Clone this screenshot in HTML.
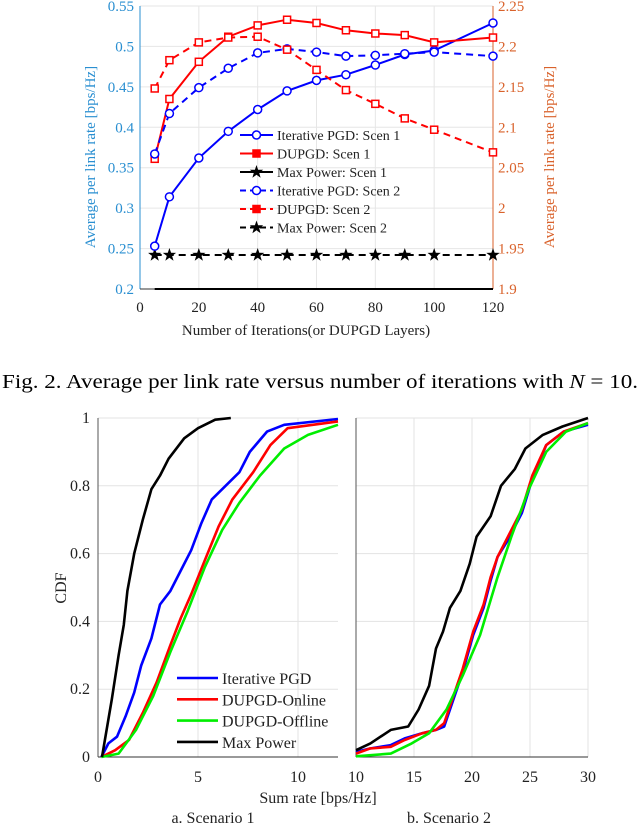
<!DOCTYPE html>
<html><head><meta charset="utf-8"><style>
html,body{margin:0;padding:0;background:#fff;}
svg{display:block;font-family:"Liberation Serif",serif;}
</style></head><body>
<svg id="fig" width="640" height="825" viewBox="0 0 640 825">
<g id="topchart"></g>
<text x="2" y="388" font-size="20" textLength="636" lengthAdjust="spacingAndGlyphs">Fig. 2.  Average per link rate versus number of iterations with <tspan font-style="italic">N</tspan> = 10.</text>
<g id="bot"></g>
</svg>
<script>
// ---------- Top chart data ----------
const iters = [5,10,20,30,40,50,60,70,80,90,100,120];
const xTicksTop = [0,20,40,60,80,100,120];
const leftTicks = [0.2,0.25,0.3,0.35,0.4,0.45,0.5,0.55];
const rightTicks = [1.9,1.95,2,2.05,2.1,2.15,2.2,2.25];
const ipgd1 = [0.253,0.314,0.362,0.395,0.422,0.445,0.458,0.465,0.477,0.490,0.495,0.529];
const dupgd1 = [2.061,2.135,2.181,2.212,2.226,2.233,2.229,2.220,2.216,2.214,2.205,2.211];
const maxp1 = [0.2,0.2,0.2,0.2,0.2,0.2,0.2,0.2,0.2,0.2,0.2,0.2];
const ipgd2 = [0.367,0.417,0.449,0.473,0.492,0.497,0.493,0.488,0.489,0.491,0.493,0.488];
const dupgd2 = [2.148,2.183,2.205,2.211,2.212,2.196,2.171,2.146,2.129,2.111,2.097,2.069];
const maxp2 = [1.942,1.942,1.942,1.942,1.942,1.942,1.942,1.942,1.942,1.942,1.942,1.942];

// ---------- CDF data ----------
const s1Xticks = [0,5,10];
const s2Xticks = [10,15,20,25,30];
const cdfTicks = [0,0.2,0.4,0.6,0.8,1];
const s1BlackX = [0.2,0.69,1.03,1.29,1.47,1.81,2.24,2.67,3.1,3.53,4.31,5.0,5.86,6.64];
const s1BlackY = [0,0.17,0.30,0.39,0.49,0.60,0.70,0.79,0.83,0.88,0.94,0.97,0.995,1.0];
const s1BlueX = [0.17,0.52,0.95,1.38,1.81,2.16,2.67,3.1,3.62,4.14,4.66,5.17,5.69,6.38,7.07,7.59,8.45,9.31,12];
const s1BlueY = [0,0.04,0.06,0.12,0.19,0.27,0.35,0.45,0.49,0.55,0.61,0.69,0.76,0.80,0.84,0.90,0.96,0.98,0.997];
const s1RedX = [0.17,0.86,1.55,2.24,2.93,3.62,4.14,4.66,5.34,6.03,6.72,7.76,8.62,9.48,12];
const s1RedY = [0,0.02,0.05,0.13,0.22,0.33,0.41,0.48,0.58,0.68,0.76,0.84,0.92,0.97,0.99];
const s1GreenX = [0.17,1.03,1.9,2.76,3.62,4.48,5.34,6.21,7.07,8.1,9.31,10.5,12];
const s1GreenY = [0,0.01,0.08,0.18,0.31,0.43,0.56,0.67,0.75,0.83,0.91,0.95,0.98];
const s2BlackX = [10,11.24,13.0,14.5,15.4,16.3,16.9,17.5,18.1,19.0,19.8,20.4,21.6,22.5,23.7,24.6,26.1,27.8,30];
const s2BlackY = [0.02,0.04,0.08,0.09,0.14,0.21,0.32,0.37,0.44,0.49,0.57,0.65,0.71,0.80,0.85,0.91,0.95,0.975,1.0];
const s2RedX = [10,11.2,13,14.2,15.7,16.9,17.6,18.4,19.2,20.1,21.0,21.6,22.2,23.1,24.3,25.2,26.4,27.9,30];
const s2RedY = [0.01,0.025,0.03,0.05,0.07,0.08,0.10,0.18,0.26,0.37,0.45,0.53,0.59,0.65,0.73,0.83,0.92,0.96,0.985];
const s2BlueX = [10,11.2,13,14.2,15.7,16.9,17.6,18.4,19.2,20.1,21.0,21.6,22.2,23.1,24.3,25.2,26.4,27.9,30];
const s2BlueY = [0.015,0.025,0.035,0.055,0.07,0.08,0.09,0.17,0.25,0.36,0.44,0.52,0.59,0.64,0.72,0.82,0.92,0.96,0.98];
const s2GreenX = [10,13,14.8,16.3,17.8,19.2,20.7,22.2,23.4,24.9,26.4,28.1,30];
const s2GreenY = [0.002,0.01,0.04,0.07,0.14,0.24,0.36,0.53,0.65,0.79,0.90,0.96,0.985];

const NS = 'http://www.w3.org/2000/svg';
function mk(parent, tag, attrs){ const e=document.createElementNS(NS,tag); for(const k in attrs) e.setAttribute(k,attrs[k]); parent.appendChild(e); return e; }

// ---------- Top chart ----------
const topG = document.getElementById('topchart');
const TL=140, TR=493, TT=6, TB=289;
const tx = v => TL + (v-0)/(120-0)*(TR-TL);
const tyL = v => TB - (v-0.2)/(0.55-0.2)*(TB-TT);
const tyR = v => TB - (v-1.9)/(2.25-1.9)*(TB-TT);
const BLUEAX='#2a8fd1', ORANGE='#d9622b';
xTicksTop.forEach(t=>{
  const g=mk(topG,'line',{x1:tx(t),x2:tx(t),y1:TT,y2:TB,stroke:'#e6e6e6','stroke-width':1});
   
  const l=mk(topG,'text',{x:tx(t),y:312,'font-size':15,'text-anchor':'middle',fill:'#222'}); l.textContent=t;
   
});
leftTicks.forEach(t=>{
  const g=mk(topG,'line',{x1:TL,x2:TR,y1:tyL(t),y2:tyL(t),stroke:'#e6e6e6','stroke-width':1});
   
  const l=mk(topG,'text',{x:134,y:tyL(t)+5,'font-size':15,'text-anchor':'end',fill:BLUEAX}); l.textContent=t;
   
});
rightTicks.forEach(t=>{
  const l=mk(topG,'text',{x:498,y:tyR(t)+5,'font-size':15,fill:ORANGE}); l.textContent=t;
   
});
let a=mk(topG,'line',{x1:TL,x2:TL,y1:TT,y2:TB,stroke:BLUEAX,'stroke-width':1});  
a=mk(topG,'line',{x1:TR,x2:TR,y1:TT,y2:TB,stroke:ORANGE,'stroke-width':1});  
a=mk(topG,'line',{x1:TL,x2:TR,y1:TB,y2:TB,stroke:'#333','stroke-width':1});  
let tt=mk(topG,'text',{x:0,y:0,'font-size':15,'text-anchor':'middle',fill:BLUEAX,transform:'translate(95,157) rotate(-90)'}); tt.textContent='Average per link rate [bps/Hz]';
 
tt=mk(topG,'text',{x:0,y:0,'font-size':15,'text-anchor':'middle',fill:ORANGE,transform:'translate(554,157) rotate(-90)'}); tt.textContent='Average per link rate [bps/Hz]';
 
tt=mk(topG,'text',{x:306,y:335,'font-size':15,'text-anchor':'middle',fill:'#222'}); tt.textContent='Number of Iterations(or DUPGD Layers)';
 

function marker(g,type,x,y,color,filled){
  let m;
  if(type==='none') return;
  if(type==='o') m=mk(g,'circle',{cx:x,cy:y,r:4,fill:filled?color:'#fff',stroke:color,'stroke-width':1.5});
  else if(type==='s') m=mk(g,'rect',{x:x-3.5,y:y-3.5,width:7,height:7,fill:filled?color:'#fff',stroke:color,'stroke-width':1.5});
  else { const pts=[];for(let i=0;i<10;i++){const r=i%2?2.8:7;const ang=-Math.PI/2+i*Math.PI/5;pts.push((x+r*Math.cos(ang)).toFixed(1)+','+(y+r*Math.sin(ang)).toFixed(1));}
    m=mk(g,'polygon',{points:pts.join(' '),fill:color}); }
   
}
function series(name,vals,yf,color,dash,mtype,filled){
  const g=mk(topG,'g',{});  
  const pts=iters.map((x,i)=>tx(x).toFixed(1)+','+yf(vals[i]).toFixed(1)).join(' ');
  const p=mk(g,'polyline',{points:pts,fill:'none',stroke:color,'stroke-width':2,'stroke-dasharray':dash||'none'});
   
  iters.forEach((x,i)=>marker(g,mtype,tx(x),yf(vals[i]),color,filled));
}
series('max-power-scen1',maxp1,tyL,'#000','','none');
series('max-power-scen2',maxp2,tyR,'#000','7,5','*');
series('iterative-pgd-scen1',ipgd1,tyL,'#0000ff','','o',false);
series('dupgd-scen1',dupgd1,tyR,'#ff0000','','s',false);
series('iterative-pgd-scen2',ipgd2,tyL,'#0000ff','7,5','o',false);
series('dupgd-scen2',dupgd2,tyR,'#ff0000','7,5','s',false);

const legTop=[['Iterative PGD: Scen 1','#0000ff','','o'],['DUPGD: Scen 1','#ff0000','','s'],['Max Power: Scen 1','#000','','*'],
 ['Iterative PGD: Scen 2','#0000ff','6,4','o'],['DUPGD: Scen 2','#ff0000','6,4','s'],['Max Power: Scen 2','#000','6,4','*']];
const lg=mk(topG,'g',{});  
legTop.forEach((e,i)=>{
  const y=135+i*18.5;
  const g=mk(lg,'g',{});  
  mk(g,'line',{x1:240,x2:273,y1:y,y2:y,stroke:e[1],'stroke-width':2,'stroke-dasharray':e[2]||'none'});
  marker(g,e[3],256.5,y,e[1],e[3]!=='o');
  const t=mk(g,'text',{x:277,y:y+5,'font-size':14,fill:'#222'}); t.textContent=e[0];
});

// ---------- Bottom charts ----------
const bot=document.getElementById('bot');
const BT=418, BB=757;
const P1={l:98,r:338,x0:0,x1:12}, P2={l:356,r:588,x0:10,x1:30};
const by = v => BB - v*(BB-BT);
function px(P,v){return P.l+(v-P.x0)/(P.x1-P.x0)*(P.r-P.l);}
function panel(P,ticks,name,showY){
  const g=mk(bot,'g',{});  
  ticks.forEach(t=>{ mk(g,'line',{x1:px(P,t),x2:px(P,t),y1:BT,y2:BB,stroke:'#e3e3e3'});
    const l=mk(g,'text',{x:px(P,t),y:782,'font-size':16,'text-anchor':'middle',fill:'#222'}); l.textContent=t;
      });
  cdfTicks.forEach(t=>{ mk(g,'line',{x1:P.l,x2:P.r,y1:by(t),y2:by(t),stroke:'#e3e3e3'});
    if(showY){const l=mk(g,'text',{x:P.l-8,y:by(t)+5,'font-size':16,'text-anchor':'end',fill:'#222'}); l.textContent=t;
       } });
  mk(g,'line',{x1:P.l,x2:P.l,y1:BT,y2:BB,stroke:'#555'});
  mk(g,'line',{x1:P.l,x2:P.r,y1:BB,y2:BB,stroke:'#333'});
  return g;
}
const g1=panel(P1,s1Xticks,'scenario-1-panel',true);
const g2=panel(P2,s2Xticks,'scenario-2-panel',false);
function cdf(g,P,X,Y,color,name){
  const pts=X.map((x,i)=>px(P,x).toFixed(1)+','+by(Y[i]).toFixed(1)).join(' ');
  const p=mk(g,'polyline',{points:pts,fill:'none',stroke:color,'stroke-width':2.6,'stroke-linejoin':'round'});
   
}
cdf(g1,P1,s1BlueX,s1BlueY,'#0000ff','iterative-pgd-cdf');
cdf(g1,P1,s1RedX,s1RedY,'#ff0000','dupgd-online-cdf');
cdf(g1,P1,s1GreenX,s1GreenY,'#00ee00','dupgd-offline-cdf');
cdf(g1,P1,s1BlackX,s1BlackY,'#000','max-power-cdf');
cdf(g2,P2,s2BlueX,s2BlueY,'#0000ff','iterative-pgd-cdf');
cdf(g2,P2,s2RedX,s2RedY,'#ff0000','dupgd-online-cdf');
cdf(g2,P2,s2GreenX,s2GreenY,'#00ee00','dupgd-offline-cdf');
cdf(g2,P2,s2BlackX,s2BlackY,'#000','max-power-cdf');

const lb=mk(bot,'g',{});  
[['Iterative PGD','#0000ff'],['DUPGD-Online','#ff0000'],['DUPGD-Offline','#00ee00'],['Max Power','#000']].forEach((e,i)=>{
  const y=678+i*21.3;
  const g=mk(lb,'g',{});  
  mk(g,'line',{x1:177,x2:218,y1:y,y2:y,stroke:e[1],'stroke-width':2.6});
  const t=mk(g,'text',{x:222,y:y+6,'font-size':16,fill:'#222'}); t.textContent=e[0];
});
let b=mk(bot,'text',{x:0,y:0,'font-size':16,'text-anchor':'middle',fill:'#222',transform:'translate(66,588) rotate(-90)'}); b.textContent='CDF';
 
b=mk(bot,'text',{x:318,y:803,'font-size':16,'text-anchor':'middle',fill:'#222'}); b.textContent='Sum rate [bps/Hz]';
 
b=mk(bot,'text',{x:213,y:823,'font-size':16,'text-anchor':'middle',fill:'#222'}); b.textContent='a. Scenario 1';
 
b=mk(bot,'text',{x:449,y:823,'font-size':16,'text-anchor':'middle',fill:'#222'}); b.textContent='b. Scenario 2';
 
</script>
</body></html>
